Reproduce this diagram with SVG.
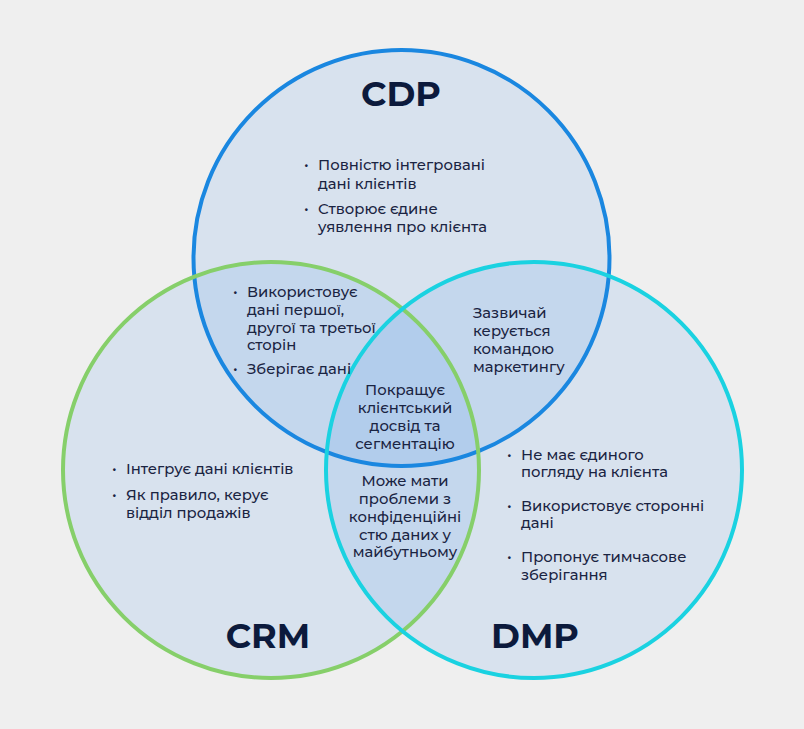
<svg xmlns="http://www.w3.org/2000/svg" width="804" height="729" viewBox="0 0 804 729">
<style>
.bg{fill:#efefef}
.circ{fill:#1377ef;fill-opacity:0.1}
.ring{fill:none;stroke-width:4}
.t{font-family:"Montserrat","Open Sans","Noto Sans",sans-serif;font-size:14.8px;font-weight:500;fill:#1a2442}
.c{text-anchor:middle}
.h{font-family:"Montserrat","Open Sans","Noto Sans",sans-serif;font-size:35px;font-weight:700;fill:#0c1a3c;text-anchor:middle}
</style>
<rect class="bg" x="0" y="0" width="804" height="729"/>
<g id="fills">
<circle class="circ" cx="401.5" cy="258" r="208"/>
<circle class="circ" cx="271" cy="470" r="208"/>
<circle class="circ" cx="534" cy="470" r="208"/>
</g>
<g id="cdp">
<circle class="ring" cx="401.5" cy="258" r="208" stroke="#1a87e0"/>
<text class="h" x="401" y="106">CDP</text>
<text class="t"><tspan x="304" y="170">•</tspan><tspan x="318" y="170">Повністю інтегровані</tspan><tspan x="318" y="189">дані клієнтів</tspan><tspan x="304" y="214">•</tspan><tspan x="318" y="214">Створює єдине</tspan><tspan x="318" y="232">уявлення про клієнта</tspan></text>
</g>
<g id="crm">
<circle class="ring" cx="271" cy="470" r="208" stroke="#86cf6a"/>
<text class="h" x="268" y="648">CRM</text>
<text class="t"><tspan x="112" y="474">•</tspan><tspan x="126" y="474">Інтегрує дані клієнтів</tspan><tspan x="112" y="500">•</tspan><tspan x="126" y="500">Як правило, керує</tspan><tspan x="126" y="518">відділ продажів</tspan></text>
</g>
<g id="dmp">
<circle class="ring" cx="534" cy="470" r="208" stroke="#1ad2e1"/>
<text class="h" x="535" y="648">DMP</text>
<text class="t"><tspan x="507" y="460">•</tspan><tspan x="521" y="460">Не має єдиного</tspan><tspan x="521" y="477">погляду на клієнта</tspan><tspan x="507" y="511">•</tspan><tspan x="521" y="511">Використовує сторонні</tspan><tspan x="521" y="528">дані</tspan><tspan x="507" y="562">•</tspan><tspan x="521" y="562">Пропонує тимчасове</tspan><tspan x="521" y="580">зберігання</tspan></text>
</g>
<g id="cdp-crm">
<text class="t"><tspan x="233" y="297">•</tspan><tspan x="247" y="297">Використовує</tspan><tspan x="247" y="315">дані першої,</tspan><tspan x="247" y="333">другої та третьої</tspan><tspan x="247" y="350">сторін</tspan><tspan x="233" y="374">•</tspan><tspan x="247" y="374">Зберігає дані</tspan></text>
</g>
<g id="cdp-dmp">
<text class="t"><tspan x="473" y="318">Зазвичай</tspan><tspan x="473" y="336">керується</tspan><tspan x="473" y="354">командою</tspan><tspan x="473" y="372">маркетингу</tspan></text>
</g>
<g id="all">
<text class="t c"><tspan x="405" y="395">Покращує</tspan><tspan x="405" y="413">клієнтський</tspan><tspan x="405" y="431">досвід та</tspan><tspan x="405" y="449">сегментацію</tspan></text>
</g>
<g id="crm-dmp">
<text class="t c"><tspan x="405" y="486">Може мати</tspan><tspan x="405" y="504">проблеми з</tspan><tspan x="405" y="522">конфіденційні</tspan><tspan x="405" y="540">стю даних у</tspan><tspan x="405" y="557">майбутньому</tspan></text>
</g>
<g id="connectors"></g>
</svg>
